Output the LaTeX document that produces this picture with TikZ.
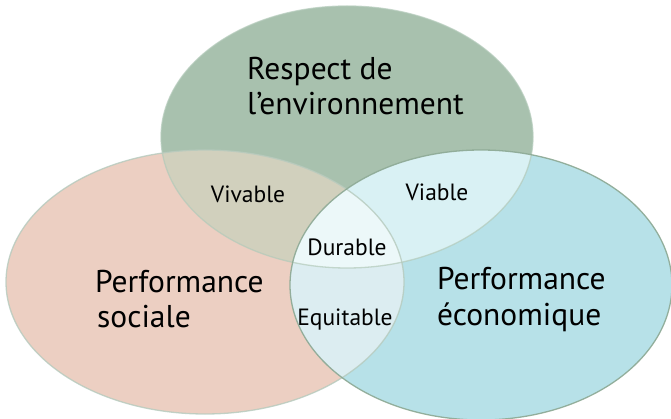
\documentclass[tikz,border=0pt]{standalone}
\usepackage{fontspec}
\setmainfont{PT Sans}
\definecolor{cT}{HTML}{A8C1AE}
\definecolor{cL}{HTML}{ECCFC2}
\definecolor{cR}{HTML}{B7E1E8}
\definecolor{cTL}{HTML}{D1D0BD}
\definecolor{cTR}{HTML}{D9F1F4}
\definecolor{cLR}{HTML}{DCEDF1}
\definecolor{cAll}{HTML}{ECF8F9}
\definecolor{oT}{HTML}{B3CABA}
\definecolor{oL}{HTML}{B5CABD}
\definecolor{oR}{HTML}{8CA893}
\tikzset{
  big/.style={font=\fontsize{31.5}{36}\selectfont, inner sep=0pt, anchor=base west, text=black},
  small/.style={font=\fontsize{23.5}{28}\selectfont, inner sep=0pt, anchor=base, text=black},
}
\def\ET{(347,137) ellipse [x radius=186pt, y radius=131pt]}
\def\EL{(205,282) ellipse [x radius=199pt, y radius=132pt]}
\def\ER{(481,285) ellipse [x radius=191pt, y radius=135pt]}
\begin{document}
\begin{tikzpicture}[x=1pt,y=-1pt]
\useasboundingbox (0,0) rectangle (671,419);
% base fills
\fill[cT] \ET;
\fill[cL] \EL;
\fill[cR] \ER;
% overlaps
\begin{scope}\clip \ET; \fill[cTL] \EL; \end{scope}
\begin{scope}\clip \ET; \fill[cTR] \ER; \end{scope}
\begin{scope}\clip \EL; \fill[cLR] \ER; \end{scope}
\begin{scope}\clip \ET; \clip \EL; \fill[cAll] \ER; \end{scope}
% outlines
\draw[oT, line width=1.3pt, opacity=0.7] \ET;
\draw[oL, line width=1.3pt, opacity=0.8] \EL;
\draw[oR, line width=1.3pt, opacity=0.9] \ER;
% texts
\node[big] (t1) at (247,80) {Respect de};
\node[big] (t2) at (247,115) {l’environnement};
\node[big] (l1) at (95,292) {Performance};
\node[big] (l2) at (97,327) {sociale};
\node[big] (r1) at (437,290) {Performance};
\node[big] (r2) at (437,325) {économique};
\node[small] (viv) at (248,203) {Vivable};
\node[small] (via) at (437,201) {Viable};
\node[small] (dur) at (347,256) {Durable};
\node[small] (equ) at (345,325) {Equitable};
\end{tikzpicture}
\end{document}
